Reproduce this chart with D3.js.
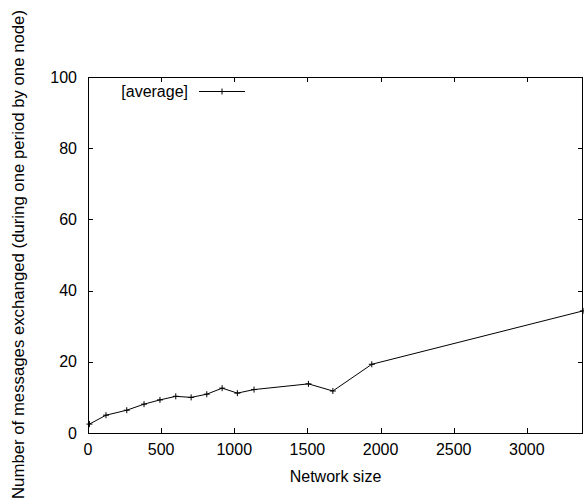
<!DOCTYPE html>
<html>
<head>
<meta charset="utf-8">
<script src="https://cdn.jsdelivr.net/npm/d3@7"></script>
<style>
  body { margin: 0; background: #fff; }
  text { font-family: "Liberation Sans", Arial, sans-serif; fill: #000; }
</style>
</head>
<body>
<svg id="chart"></svg>
<script>
// --- data ---
const networkSize = [10, 123, 265, 383, 492, 600, 705, 812, 917, 1021, 1135, 1507, 1674, 1940, 3384];
const avgMessages = [2.5, 5.0, 6.4, 8.1, 9.3, 10.3, 10.0, 10.9, 12.6, 11.2, 12.2, 13.8, 11.8, 19.3, 34.3];
const xTicks = [0, 500, 1000, 1500, 2000, 2500, 3000];
const yTicks = [0, 20, 40, 60, 80, 100];
const seriesLabel = "[average]";

// --- layout ---
const width = 584, height = 504;
const plotLeft = 88, plotRight = 583, plotTop = 77, plotBottom = 433;
const tickLen = 5;
const fs = 16;

const svg = d3.select("#chart").attr("width", width).attr("height", height);

const x = d3.scaleLinear().domain([0, 3384]).range([plotLeft, plotRight]);
const y = d3.scaleLinear().domain([0, 100]).range([plotBottom, plotTop]);

// ticks on all four sides, pointing inward
const g = svg.append("g").attr("stroke", "#000").attr("stroke-width", 1);
xTicks.forEach(t => {
  const px = Math.round(x(t)) + 0.5;
  g.append("line").attr("x1", px).attr("x2", px).attr("y1", plotBottom).attr("y2", plotBottom - tickLen);
  g.append("line").attr("x1", px).attr("x2", px).attr("y1", plotTop).attr("y2", plotTop + tickLen);
});
yTicks.forEach(t => {
  const py = Math.round(y(t)) + 0.5;
  g.append("line").attr("x1", plotLeft).attr("x2", plotLeft + tickLen).attr("y1", py).attr("y2", py);
  g.append("line").attr("x1", plotRight).attr("x2", plotRight - tickLen).attr("y1", py).attr("y2", py);
});

// tick labels
svg.append("g").selectAll("text").data(xTicks).join("text")
  .attr("x", d => x(d)).attr("y", 455)
  .attr("text-anchor", "middle").attr("font-size", fs)
  .text(d => d);
svg.append("g").selectAll("text").data(yTicks).join("text")
  .attr("x", 77).attr("y", d => y(d) + 5.5)
  .attr("text-anchor", "end").attr("font-size", fs)
  .text(d => d);

// frame
svg.append("rect")
  .attr("x", plotLeft + 0.5).attr("y", plotTop + 0.5)
  .attr("width", plotRight - plotLeft - 1).attr("height", plotBottom - plotTop)
  .attr("fill", "none").attr("stroke", "#000");

// axis titles
svg.append("text").attr("x", (plotLeft + plotRight) / 2).attr("y", 482)
  .attr("text-anchor", "middle").attr("font-size", fs).text("Network size");
svg.append("text")
  .attr("transform", "translate(24,254.5) rotate(-90)")
  .attr("text-anchor", "middle").attr("font-size", fs)
  .attr("textLength", 489).attr("lengthAdjust", "spacingAndGlyphs")
  .text("Number of messages exchanged (during one period by one node)");

// series line
const pts = networkSize.map((d, i) => [d, avgMessages[i]]);
svg.append("path").datum(pts)
  .attr("fill", "none").attr("stroke", "#000").attr("stroke-width", 1)
  .attr("d", d3.line().x(d => x(d[0])).y(d => y(d[1])));

// "+" markers
const plus = (sel, cx, cy) => {
  sel.append("line").attr("x1", cx - 3).attr("x2", cx + 3).attr("y1", cy).attr("y2", cy).attr("stroke", "#000");
  sel.append("line").attr("x1", cx).attr("x2", cx).attr("y1", cy - 3).attr("y2", cy + 3).attr("stroke", "#000");
};
const mk = svg.append("g");
pts.forEach(d => plus(mk, x(d[0]), y(d[1])));

// legend
svg.append("text").attr("x", 188).attr("y", 97)
  .attr("text-anchor", "end").attr("font-size", fs).text(seriesLabel);
svg.append("line").attr("x1", 199).attr("x2", 245).attr("y1", 91.5).attr("y2", 91.5).attr("stroke", "#000");
plus(svg, 222, 91.5);
</script>
</body>
</html>
